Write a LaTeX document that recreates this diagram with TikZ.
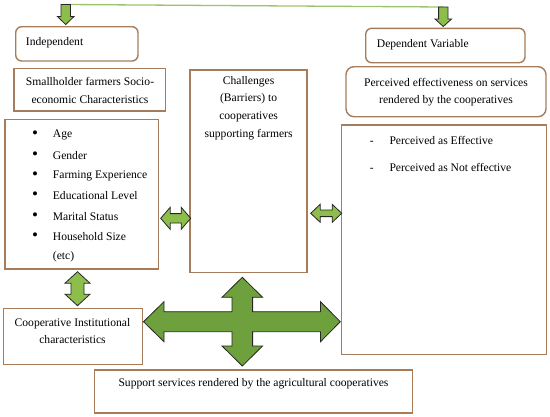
\documentclass[tikz,border=0pt]{standalone}
\usepackage{fontspec}
\setmainfont{Liberation Serif}
\usetikzlibrary{fit}
\definecolor{bx}{HTML}{A67C5B}
\definecolor{gl}{HTML}{8DBE4C}
\definecolor{gd}{HTML}{6EA03E}
\definecolor{gline}{HTML}{9CC46C}
\begin{document}
\begin{tikzpicture}[x=1pt,y=-1pt,
  box/.style={draw=bx, line width=1.4pt, inner sep=0pt},
  rbox/.style={box, rounded corners=6pt},
  txt/.style={font=\fontsize{11.6}{17.6}\selectfont, inner sep=0pt, text=black},
  bul/.style={font=\fontsize{17}{17}\selectfont, inner sep=0pt, text=black},
  blk/.style={draw=black!85, line width=0.8pt, line join=miter},
]
\useasboundingbox (0,0) rectangle (550,416);

% boxes
\node[rbox, fit={(15.7,26.7) (138,61)}] (ind) {};
\node[rbox, fit={(365.7,28.3) (525,62.7)}] (dep) {};
\node[box, fit={(14,68.3) (165.7,111)}] (small) {};
\node[rbox, rounded corners=8pt, fit={(346,66.7) (546,116.7)}] (perc) {};
\node[box, fit={(5,119.3) (158.3,269)}] (list) {};
\node[box, fit={(190,70) (307,272.5)}] (chal) {};
\node[box, fit={(341.7,125) (546.7,354.3)}] (big) {};
\node[box, fit={(3.3,308.3) (142.3,364.3)}] (coop) {};
\node[box, fit={(94.3,370) (412.7,413)}] (supp) {};

% texts
\node[txt, anchor=west] (tind) at (25.7,42.5) {Independent};
\node[txt, anchor=west] (tdep) at (376.7,45) {Dependent Variable};
\node[txt, align=center] (tsmall) at (90,90.5) {Smallholder farmers Socio-\\economic Characteristics};
\node[txt, align=center] (tperc) at (446,92) {Perceived effectiveness on services\\rendered by the cooperatives};
\node[txt, align=center, anchor=north] (tchal) at (248.6,76) {Challenges\\(Barriers) to\\cooperatives\\supporting farmers};
\node[txt, align=center] (tcoop) at (72.5,331.2) {Cooperative Institutional\\characteristics};
\node[txt] (tsupp) at (253.5,384) {Support services rendered by the agricultural cooperatives};

\foreach \t [count=\i from 0] in {Age,Gender,Farming Experience,Educational Level,Marital Status,Household Size} {
  \node[bul] (b\i) at (35,135+20.3*\i) {\textbullet};
  \node[txt, anchor=west] (l\i) at (52.7,135+20.3*\i) {\t};
}
\node[txt, anchor=west] (letc) at (52.7,256.8) {(etc)};

\node[txt, anchor=base] (d1) at (371.7,144) {-};
\node[txt, anchor=base west] (e1) at (389.3,144) {Perceived as Effective};
\node[txt, anchor=base] (d2) at (371.7,171.3) {-};
\node[txt, anchor=base west] (e2) at (389.3,171.3) {Perceived as Not effective};

% top connector line
\coordinate (ta) at (65.7,4.5);
\coordinate (tb) at (443.3,7);
\draw[gline, line width=1.3pt] (ta) -- (tb);

% down arrows
\draw[blk, fill=gl] (61,4.5) -- (70.4,4.5) -- (70.4,16.5) -- (74,16.5) -- (65.7,24.5) -- (57.4,16.5) -- (61,16.5) -- cycle;
\draw[blk, fill=gl] (438.6,7) -- (448,7) -- (448,19) -- (451.6,19) -- (443.3,26.5) -- (435,19) -- (438.6,19) -- cycle;

% horizontal double arrows
\draw[blk, fill=gl] (160.7,218.3) -- (170.2,207.3) -- (170.2,213.6) -- (181.2,213.6) -- (181.2,207.3) -- (190.7,218.3)
  -- (181.2,229.3) -- (181.2,223) -- (170.2,223) -- (170.2,229.3) -- cycle;
\draw[blk, fill=gl] (310.7,213.3) -- (320.2,204.3) -- (320.2,210) -- (332.2,210) -- (332.2,204.3) -- (341.7,213.3)
  -- (332.2,222.3) -- (332.2,216.6) -- (320.2,216.6) -- (320.2,222.3) -- cycle;

% vertical double arrow
\draw[blk, fill=gl] (77.5,271.7) -- (90,283.2) -- (84,283.2) -- (84,294.2) -- (90,294.2) -- (77.5,305.7)
  -- (65,294.2) -- (71,294.2) -- (71,283.2) -- (65,283.2) -- cycle;

% big cross arrow
\draw[blk, fill=gd] (143.5,321.7) -- (164,301.7) -- (164,311.7) -- (232,311.7) -- (232,297.3) -- (222,297.3)
  -- (242.3,277.3) -- (262.6,297.3) -- (252.6,297.3) -- (252.6,311.7) -- (320.5,311.7) -- (320.5,301.7)
  -- (340.3,321.7) -- (320.5,341.7) -- (320.5,331.7) -- (252.6,331.7) -- (252.6,346) -- (262.6,346)
  -- (242.3,366) -- (222,346) -- (232,346) -- (232,331.7) -- (164,331.7) -- (164,341.7) -- cycle;
\end{tikzpicture}
\end{document}
